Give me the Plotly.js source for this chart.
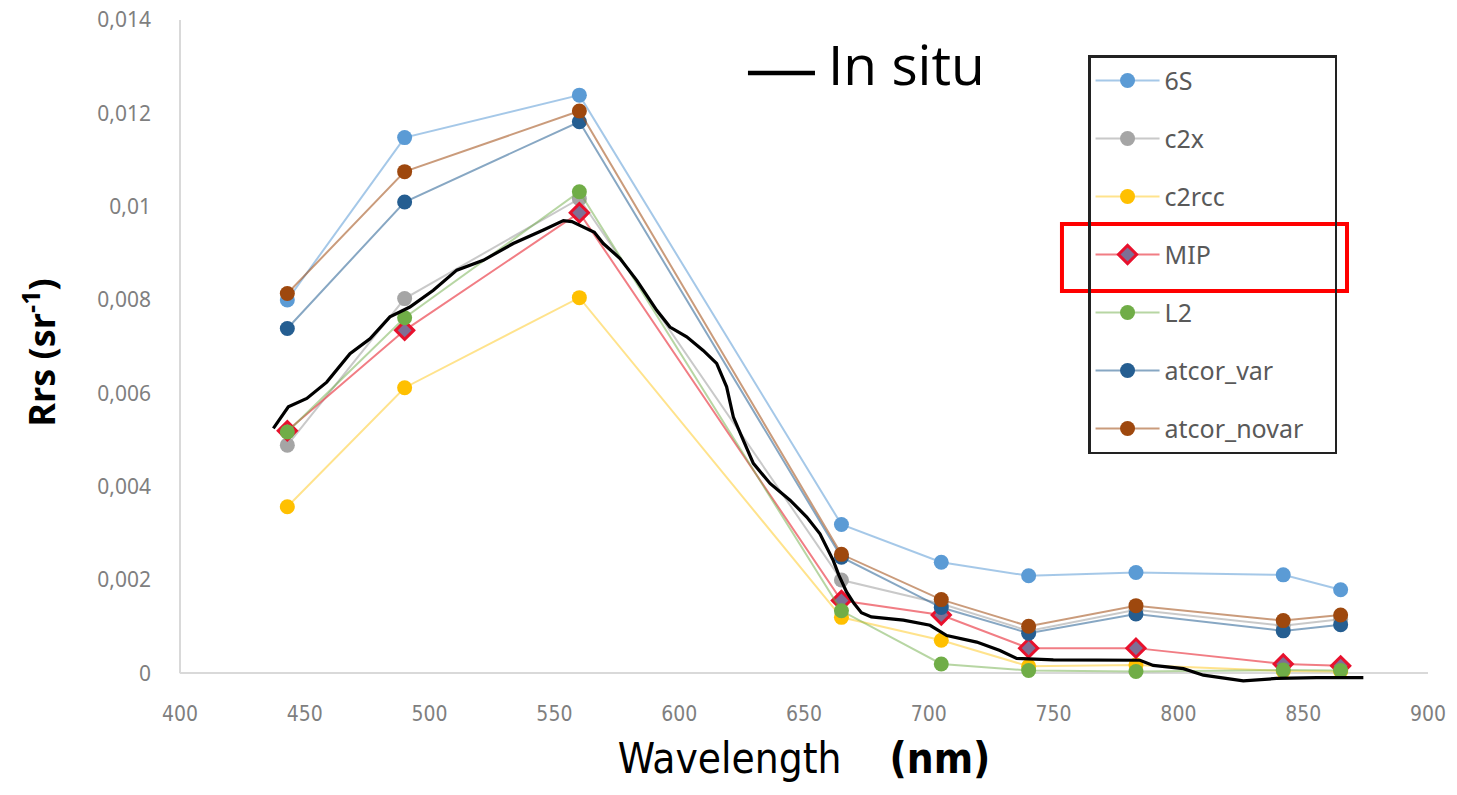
<!DOCTYPE html>
<html><head><meta charset="utf-8">
<script src="https://cdn.plot.ly/plotly-3.0.1.min.js"></script>
<style>html,body{margin:0;padding:0;background:#fff;}#chart{width:1457px;height:795px;}</style>
</head><body><div id="chart"></div>
<script>
const wavelengths = [443, 490, 560, 665, 705, 740, 783, 842, 865];
const s6 = [0.0080, 0.01148, 0.01239, 0.00319, 0.00238, 0.00209, 0.00216, 0.00211, 0.00179];
const c2x = [0.00489, 0.00803, 0.01017, 0.00200, 0.00149, 0.00091, 0.00136, 0.00102, 0.00116];
const c2rcc = [0.00357, 0.00612, 0.00805, 0.00120, 0.00071, 0.00015, 0.00018, 0.00005, 0.00004];
const mip = [0.00520, 0.00735, 0.00987, 0.00156, 0.00125, 0.00054, 0.00054, 0.00020, 0.00016];
const l2 = [0.00517, 0.00762, 0.01032, 0.00134, 0.00020, 0.00006, 0.00004, 0.00007, 0.00006];
const atcorVar = [0.00739, 0.0101, 0.01182, 0.00249, 0.00141, 0.00086, 0.00127, 0.00091, 0.00104];
const atcorNovar = [0.00814, 0.01075, 0.01205, 0.00255, 0.00158, 0.00101, 0.00145, 0.00113, 0.00125];

const insituWl = [437.4, 443.4, 450.8, 458.8, 468.1, 476.1, 484.1, 492.1, 501.5, 510.9, 521.5, 533.5, 545.6, 553.6, 557, 561.6, 566, 569.6, 576.3, 583, 591, 596.3, 603, 609.6, 615, 619, 621.7, 625.7, 629.7, 636.4, 644.4, 651.1, 656.4, 661.7, 664, 667, 670, 673, 677, 689.8, 700.5, 707.2, 719.2, 728.5, 735.2, 749.9, 768.6, 784.6, 789.9, 802, 810, 826, 839.3, 855.4, 874.1];
const insituRrs = [0.00525, 0.00571, 0.00589, 0.00624, 0.00685, 0.00717, 0.00764, 0.00785, 0.00821, 0.00864, 0.00885, 0.00921, 0.0095, 0.0097, 0.00968, 0.00957, 0.00945, 0.00921, 0.00889, 0.00842, 0.00778, 0.00742, 0.00721, 0.00692, 0.00664, 0.00614, 0.00549, 0.00499, 0.00450, 0.00407, 0.00371, 0.00335, 0.00299, 0.00242, 0.00210, 0.00175, 0.00150, 0.00130, 0.00121, 0.00114, 0.00103, 0.00081, 0.00067, 0.00049, 0.00032, 0.00029, 0.00029, 0.00028, 0.00017, 0.0001, -0.00004, -0.00016, -0.00011, -0.00009, -0.00009];

const seriesNames = ['6S', 'c2x', 'c2rcc', 'MIP', 'L2', 'atcor_var', 'atcor_novar'];
const seriesValues = [s6, c2x, c2rcc, mip, l2, atcorVar, atcorNovar];
const markerColors = ['#5b9bd5', '#a5a5a5', '#ffc000', '#7f6f95', '#70ad47', '#255e91', '#9e480e'];
const lineColors = ['rgba(91,155,213,0.55)', 'rgba(165,165,165,0.6)', 'rgba(255,192,0,0.45)', 'rgba(235,70,80,0.7)', 'rgba(112,173,71,0.5)', 'rgba(37,94,145,0.55)', 'rgba(158,72,14,0.55)'];
const symbols = ['circle', 'circle', 'circle', 'diamond', 'circle', 'circle', 'circle'];

const traces = seriesNames.map((n, i) => ({
  type: 'scatter', mode: 'lines+markers', x: wavelengths, y: seriesValues[i],
  name: n + (i === seriesNames.length - 1 ? '\u00a0\u00a0\u00a0\u00a0' : ''),
  legendgroup: 'g' + i,
  line: {color: lineColors[i], width: 2},
  marker: {symbol: symbols[i], size: n === 'MIP' ? 14 : 15, color: markerColors[i],
           line: n === 'MIP' ? {color: '#e8112d', width: 3} : {width: 0}}
}));
traces.push({type: 'scatter', mode: 'lines', name: 'In situ', x: insituWl, y: insituRrs,
  line: {color: '#000', width: 3.2}, showlegend: false});

const layout = {
  width: 1457, height: 795,
  margin: {l: 180, r: 29, t: 20, b: 110},
  paper_bgcolor: '#fff', plot_bgcolor: '#fff',
  separators: ', ',
  showlegend: true,
  legend: {x: 0.7276, y: 0.947, xanchor: 'left', yanchor: 'top',
    bordercolor: '#222', borderwidth: 2.5, bgcolor: 'rgba(255,255,255,0)',
    font: {family: 'Noto Sans, Open Sans, sans-serif', size: 25, color: '#595959'},
    itemwidth: 64, tracegroupgap: 22.5, traceorder: 'grouped'},
  xaxis: {range: [400, 900], dtick: 50, tick0: 400, showgrid: false, zeroline: false,
    showline: false, ticks: '', ticklabelstandoff: 14,
    tickfont: {family: 'Liberation Sans Narrow, DejaVu Sans Condensed, sans-serif', size: 21, color: '#7f7f7f'},
    title: {text: 'Wavelength&nbsp;&nbsp;&nbsp;&nbsp;<b>(nm)</b>', standoff: 18,
      font: {family: 'Liberation Sans Narrow, DejaVu Sans Condensed, sans-serif', size: 42, color: '#000'}}},
  yaxis: {range: [-0.00025, 0.014], tickvals: [0, 0.002, 0.004, 0.006, 0.008, 0.01, 0.012, 0.014],
    showgrid: false, zeroline: true, zerolinecolor: '#d9d9d9', zerolinewidth: 2,
    showline: false, ticks: '', ticklabelstandoff: 28,
    tickfont: {family: 'Noto Sans, Open Sans, sans-serif', size: 21, color: '#7f7f7f'},
    title: {text: '<b>Rrs (sr<sup>-1</sup>)</b>', standoff: 30,
      font: {family: 'Open Sans, Noto Sans, sans-serif', size: 36, color: '#000'}}},
  shapes: [
    {type: 'line', xref: 'paper', yref: 'y', x0: 0, x1: 0, y0: 0, y1: 0.014, line: {color: '#d9d9d9', width: 2}},
    {type: 'rect', xref: 'paper', yref: 'paper', x0: 0.7067, x1: 0.9351, y0: 0.5925, y1: 0.6932,
     line: {color: '#ff0000', width: 4}, fillcolor: 'rgba(0,0,0,0)', layer: 'above'},
    {type: 'line', xref: 'paper', yref: 'paper', x0: 0.4551, x1: 0.5088, y0: 0.9203, y1: 0.9203,
     line: {color: '#000', width: 4.5}}
  ],
  annotations: [
    {xref: 'paper', yref: 'paper', x: 0.5176, y: 0.935, xanchor: 'left', yanchor: 'middle', showarrow: false,
     text: 'In situ', font: {family: 'Open Sans, Noto Sans, sans-serif', size: 55, color: '#000'}}
  ]
};
Plotly.newPlot('chart', traces, layout, {displayModeBar: false, staticPlot: true});
</script></body></html>
